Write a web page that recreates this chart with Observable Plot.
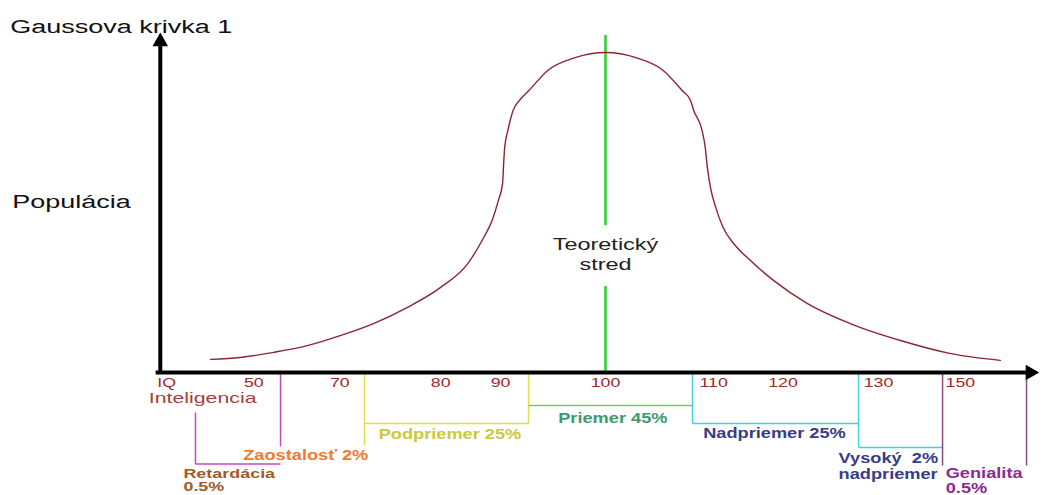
<!DOCTYPE html>
<html>
<head>
<meta charset="utf-8">
<script src="https://cdn.jsdelivr.net/npm/d3@7"></script>
<script src="https://cdn.jsdelivr.net/npm/@observablehq/plot@0.6"></script>
<style>
  html, body { margin: 0; padding: 0; background: #fff; }
</style>
</head>
<body>
<script>
// ---------- DATA (x = IQ position along the axis, y = relative population) ----------
const curveIQ  = [62.4, 65.2, 68.4, 71.6, 74.8, 77.9, 81.1, 84.3, 86.9, 88.4, 89.2, 89.8, 90.2, 90.3, 90.4, 90.7, 91.2, 91.9, 92.7, 94.5, 97.1, 100.0,
                  102.9, 105.5, 107.3, 108.1, 108.4, 109.2, 109.5, 109.7, 110.0, 110.5, 111.2, 112.2, 113.5, 116.0, 119.2, 123.3, 128.1, 132.9, 137.6];
const curvePop = [4.1, 4.7, 6.3, 8.4, 11.6, 15.3, 20.3, 26.6, 34.1, 42.2, 47.5, 53.8, 59.1, 65.3, 70.3, 75.6, 81.9, 85.4, 88.1, 94.4, 98.4, 100.0,
                  98.4, 94.4, 88.1, 85.0, 81.9, 75.6, 70.3, 64.1, 57.8, 51.6, 45.3, 40.3, 35.9, 28.8, 21.6, 15.3, 10.0, 5.9, 3.8];

const tickLabels = ["IQ", "50", "70", "80", "90", "100", "110", "120", "130", "150"];
const tickIQ     = [58.2, 66.5, 74.7, 84.3, 90.0, 100.0, 110.3, 116.9, 126.0, 133.8];
const tickPop    = -3.4;

const meanIQ = 100;
const centerLineTop = [105.3, 26.9];   // upper ends of the two green pieces
const centerLineBottom = [45.9, 0];    // lower ends

const axisIQ = [57.6, 140.5];          // y axis position, x axis end
const axisTop = 101.9;

// bracket segments [x1, y1, x2, y2]
const retardaciaSeg = [[60.95, -12.5, 60.95, -28.6], [60.95, -28.6, 69.05, -28.6], [69.05, 0, 69.05, -23.1]];
const podpriemerSeg = [[77.05, 0, 77.05, -22.8], [77.05, -15.9, 92.67, -15.9], [92.67, 0, 92.67, -15.9]];
const priemerSeg    = [[92.67, -10.3, 108.29, -10.3]];
const nadpriemerSeg = [[108.29, 0, 108.29, -15.9], [108.29, -15.9, 124.1, -15.9], [124.1, 0, 124.1, -23.4], [124.1, -23.4, 132.1, -23.4]];
const genialitaSeg  = [[132.1, 0, 132.1, -29.1], [140.1, 0, 140.1, -29.1]];

// label texts with their anchor positions
const bandText = ["Zaostalosť 2%", "Retardácia\n0.5%", "Podpriemer 25%", "Priemer 45%", "Nadpriemer 25%", "Vysoký  2%\nnadpriemer", "Genialita\n0.5%"];
const bandTextIQ  = [65.5, 59.8, 78.4, 100.7, 109.3, 122.2, 132.4];
const bandTextPop = [-25.9, -33.6, -19.4, -14.4, -19.1, -29.1, -33.7];

const titleText = "Gaussova krivka 1";
const yLabelText = "Populácia";
const xLabelText = "Inteligencia";
const centerText = "Teoretický\nstred";

// ---------- STYLES ----------
const FONT = "'Liberation Sans', Arial, Helvetica, sans-serif";
const bandColors = ["#f07a32", "#a05a28", "#c9c93c", "#3c9a70", "#383c88", "#383c88", "#8c2a92"];
const bandAnchors = ["start", "start", "start", "middle", "start", "start", "start"];
const bandLineH = [1, 1.0, 1, 1, 1, 1.15, 1.06];
const bandSize = [14, 13, 14, 14, 14, 14, 14];

const curve = curveIQ.map((x, i) => ({x, y: curvePop[i]}));
const ticks = tickLabels.map((t, i) => ({t, x: tickIQ[i], y: tickPop}));
const center = centerLineTop.map((t, i) => ({x: meanIQ, y1: t, y2: centerLineBottom[i]}));
const seg = a => a.map(([x1, y1, x2, y2]) => ({x1, y1, x2, y2}));
const bands = bandText.map((t, i) => ({t, x: bandTextIQ[i], y: bandTextPop[i], c: bandColors[i], a: bandAnchors[i], lh: bandLineH[i], s: bandSize[i]}));

const xDomain = [100 - 605 / 10.5, 100 + 439 / 10.5];
const yDomain = [(372 - 495) / 3.2, 372 / 3.2];

const segMark = (data, color) => Plot.link(seg(data), {x1: "x1", y1: "y1", x2: "x2", y2: "y2", stroke: color, strokeWidth: 1.5});

const chart = Plot.plot({
  width: 1044,
  height: 495,
  margin: 0,
  style: {fontFamily: FONT, background: "#fff"},
  x: {domain: xDomain, axis: null},
  y: {domain: yDomain, axis: null},
  marks: [
    // brackets
    segMark(retardaciaSeg, "#c846c8"),
    segMark(podpriemerSeg, "#dcdc52"),
    segMark(priemerSeg, "#70cc70"),
    segMark(nadpriemerSeg, "#46d0d8"),
    segMark(genialitaSeg, "#8a4a80"),
    // green centre line
    Plot.ruleX(center, {x: "x", y1: "y1", y2: "y2", stroke: "#2ed02e", strokeWidth: 2.5}),
    // curve
    Plot.line(curve, {x: "x", y: "y", stroke: "#8b2530", strokeWidth: 1.4, curve: "monotone-x"}),
    // axes
    Plot.ruleX([axisIQ[0]], {y1: -0.6, y2: axisTop, stroke: "#000", strokeWidth: 4}),
    Plot.ruleY([0], {x1: axisIQ[0] - 0.4, x2: axisIQ[1], stroke: "#000", strokeWidth: 4}),
    Plot.dot([{x: axisIQ[0], y: axisTop + 1.5}], {x: "x", y: "y", symbol: "triangle", r: 5.8, fill: "#000", stroke: "none"}),
    Plot.dot([{x: axisIQ[1] - 0.05, y: 0}], {x: "x", y: "y", symbol: "triangle", r: 5.8, fill: "#000", stroke: "none", rotate: 90}),
    // texts
    Plot.text([titleText], {x: 43.3, y: 107.8, text: d => d, textAnchor: "start", fontSize: 18, fill: "#111"}),
    Plot.text([yLabelText], {x: 43.5, y: 53.1, text: d => d, textAnchor: "start", fontSize: 18, fill: "#111"}),
    Plot.text([centerText], {x: meanIQ, y: 37.2, text: d => d, fontSize: 16.5, lineHeight: 1.2, fill: "#222"}),
    Plot.text(ticks, {x: "x", y: "y", text: "t", fontSize: 12.5, fill: "#a02828"}),
    Plot.text([xLabelText], {x: 56.5, y: -8.1, text: d => d, textAnchor: "start", fontSize: 15, fill: "#a84040"}),
    ...bands.map(b => Plot.text([b], {x: "x", y: "y", text: "t", textAnchor: b.a, fontSize: b.s, fontWeight: "bold", fill: b.c, lineHeight: b.lh}))
  ]
});

document.body.append(chart);

// the reference lettering is horizontally wide; stretch glyphs to match
chart.querySelectorAll("text").forEach(t => {
  const parts = t.querySelectorAll("tspan");
  const els = parts.length ? [...parts] : [t];
  const fw = Number(getComputedStyle(t).fontWeight) >= 600;
  const fs = parseFloat(getComputedStyle(t).fontSize);
  const k = fw ? (fs < 13.5 ? 1.38 : 1.3) : (fs >= 17.5 ? 1.5 : 1.42);
  els.forEach(e => {
    const L = e.getComputedTextLength();
    if (L > 0) {
      e.setAttribute("textLength", (L * k).toFixed(1));
      e.setAttribute("lengthAdjust", "spacingAndGlyphs");
    }
  });
});
</script>
</body>
</html>
